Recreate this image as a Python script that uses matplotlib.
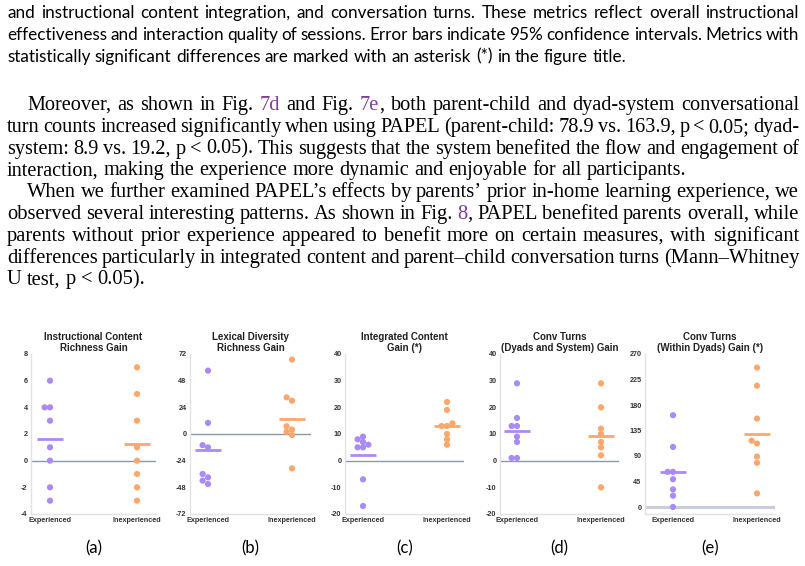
import re
import numpy as np
import matplotlib.pyplot as plt

W, H = 805, 566

# ---- data ----
groups = ["Experienced", "Inexperienced"]
titles = ["Instructional Content\nRichness Gain",
          "Lexical Diversity\nRichness Gain",
          "Integrated Content\nGain (*)",
          "Conv Turns\n(Dyads and System) Gain",
          "Conv Turns\n(Within Dyads) Gain (*)"]
panel_labels = ["(a)", "(b)", "(c)", "(d)", "(e)"]

instr_exp = [6, 4, 4, 3, 1, 0, -2, -3]
instr_inexp = [7, 5, 3, 1, 0, -1, -2, -3]
lex_exp = [57, 10, -10, -12, -36, -39, -42, -45]
lex_inexp = [67, 33, 30, 7, 4, 2, -1, -31]
integ_exp = [9, 8, 7, 6, 5, 5, -7, -17]
integ_inexp = [22, 19, 14, 13, 13, 10, 8, 6]
sys_exp = [29, 16, 13, 13, 9, 7, 1, 1]
sys_inexp = [29, 20, 12, 10, 7, 5, 2, -10]
dyad_exp = [162, 106, 62, 62, 49, 31, 20, 0]
dyad_inexp = [246, 214, 156, 117, 112, 89, 78, 24]

exp_data = [instr_exp, lex_exp, integ_exp, sys_exp, dyad_exp]
inexp_data = [instr_inexp, lex_inexp, integ_inexp, sys_inexp, dyad_inexp]

yticks = [np.arange(-4, 9, 2), np.arange(-72, 73, 24), np.arange(-20, 41, 10),
          np.arange(-20, 41, 10), np.arange(0, 271, 45)]

caption_lines = [
    "and instructional content integration, and conversation turns. These metrics reflect overall instructional",
    "effectiveness and interaction quality of sessions. Error bars indicate 95% confidence intervals. Metrics with",
    "statistically significant differences are marked with an asterisk (*) in the figure title.",
]
para2_lines = [
    "Moreover, as shown in Fig. {7d} and Fig. {7e}, both parent-child and dyad-system conversational",
    "turn counts increased significantly when using PAPEL (parent-child: 78.9 vs. 163.9, p < 0.05; dyad-",
    "system: 8.9 vs. 19.2, p < 0.05). This suggests that the system benefited the flow and engagement of",
    "interaction, making the experience more dynamic and enjoyable for all participants.",
]
para3_lines = [
    "When we further examined PAPEL\u2019s effects by parents\u2019 prior in-home learning experience, we",
    "observed several interesting patterns. As shown in Fig. {8}, PAPEL benefited parents overall, while",
    "parents without prior experience appeared to benefit more on certain measures, with significant",
    "differences particularly in integrated content and parent\u2013child conversation turns (Mann\u2013Whitney",
    "U test, p < 0.05).",
]

PURPLE = '#A98BF7'
ORANGE = '#FFA66B'
LINK = '#7D3C98'

fig = plt.figure(figsize=(W / 100, H / 100), dpi=100)
renderer = fig.canvas.get_renderer()


def word_parts(word):
    out = []
    for p in re.split(r'(\{[^}]*\})', word):
        if not p:
            continue
        if p.startswith('{'):
            out.append((p[1:-1], LINK))
        else:
            out.append((p, 'black'))
    return out


def text_width(s, family, size):
    t = fig.text(0, 0, s, family=family, fontsize=size)
    w = t.get_window_extent(renderer).width
    t.remove()
    return w


def fit_size(lines, indents, family, size, right=799):
    # shrink the font only if the words can't fit with tight spaces
    best = size
    min_gap = 0.2 * size * 100 / 72
    for line, x0 in zip(lines, indents):
        words = line.replace('{', '').replace('}', '').split(' ')
        need = sum(text_width(w, family, size) for w in words) + (len(words) - 1) * min_gap
        best = min(best, size * (right - x0) / need)
    return best


def set_line(y, x_left, x_right, line, family, size, justify):
    words = []
    for w in line.split(' '):
        words.append([fig.text(0, 0, s, family=family, fontsize=size, color=c,
                               va='baseline', ha='left') for s, c in word_parts(w)])
    wid = [[t.get_window_extent(renderer).width for t in pcs] for pcs in words]
    total = sum(sum(ws) for ws in wid)
    if justify and len(words) > 1:
        gap = (x_right - x_left - total) / (len(words) - 1)
    else:
        gap = text_width('a a', family, size) - text_width('aa', family, size)
    x = x_left
    for pcs, ws in zip(words, wid):
        for t, w in zip(pcs, ws):
            t.set_position((x / W, 1 - y / H))
            x += w
        x += gap


def set_paragraph(lines, y0, indent, family, size):
    indents = [indent] + [7] * (len(lines) - 1)
    size = fit_size(lines[:-1], indents[:-1], family, size)
    for i, line in enumerate(lines):
        set_line(y0 + i * 21.8, indents[i], 799, line, family, size, i < len(lines) - 1)


set_paragraph(caption_lines, 18.3, 7, 'Lato', 12.5)
set_paragraph(para2_lines, 110, 27, 'Liberation Serif', 14.8)
set_paragraph(para3_lines, 110 + 4 * 21.8, 27, 'Liberation Serif', 14.8)


# ---- strip charts ----
boxes = [(31, 156, 50, 137), (190, 311, 208, 292), (345, 464, 363, 447),
         (500, 619, 517, 601), (645, 775, 673, 757)]
top, bottom = 354, 514


def swarm(ax, x0, vals, color):
    vals = np.sort(np.asarray(vals, dtype=float))
    pts = ax.transData.transform(np.column_stack([np.full(len(vals), x0), vals]))
    d = 5.4
    placed = []
    for px, py in pts:
        for k in [0, -1, 1, -2, 2]:
            cx = px + k * d
            if all((cx - qx) ** 2 + (py - qy) ** 2 >= (0.95 * d) ** 2 for qx, qy in placed):
                break
        placed.append((cx, py))
    back = ax.transData.inverted().transform(np.array(placed))
    ax.scatter(back[:, 0], back[:, 1], s=20, color=color, edgecolors='none', zorder=3)
    m = np.mean(vals)
    ax.plot([x0 - 0.15, x0 + 0.15], [m, m], color=color, lw=2, zorder=2,
            solid_capstyle='butt')


for i in range(5):
    L, R, E, I = boxes[i]
    ax = fig.add_axes([L / W, 1 - bottom / H, (R - L) / W, (bottom - top) / H])
    span = I - E
    ax.set_xlim((L - E) / span, 1 + (R - I) / span)
    yt = yticks[i]
    if i == 4:
        zero_px = 507
        ax.set_ylim(-yt[-1] * (bottom - zero_px) / (zero_px - top), yt[-1])
    else:
        ax.set_ylim(yt[0], yt[-1])
    ax.set_yticks(yt)
    ax.set_yticklabels([str(v) for v in yt])
    ax.set_xticks([0, 1])
    ax.set_xticklabels(groups)
    ax.tick_params(length=0, labelsize=5.2, pad=2.5, labelcolor='#333333')
    for lab in ax.get_xticklabels() + ax.get_yticklabels():
        lab.set_fontweight('bold')
        lab.set_family('Liberation Sans')
    for s in ['top', 'right']:
        ax.spines[s].set_visible(False)
    for s in ['left', 'bottom']:
        ax.spines[s].set_color('#E2E2E2')
        ax.spines[s].set_linewidth(1)
    if i == 4:
        ax.axhline(0, color='#C9CEDF', lw=2.2, zorder=1)
    else:
        ax.axhline(0, color='#8E99A8', lw=1, zorder=1)
    swarm(ax, 0, exp_data[i], PURPLE)
    swarm(ax, 1, inexp_data[i], ORANGE)
    ax.set_title(titles[i], fontsize=7, fontweight='bold', family='Liberation Sans',
                 pad=2, linespacing=1.1, color='#222222')
    fig.text((L + R) / 2 / W, 1 - 548 / H, panel_labels[i], family='Lato',
             fontsize=12, ha='center', va='center')

fig.savefig('out.png', dpi=100)
